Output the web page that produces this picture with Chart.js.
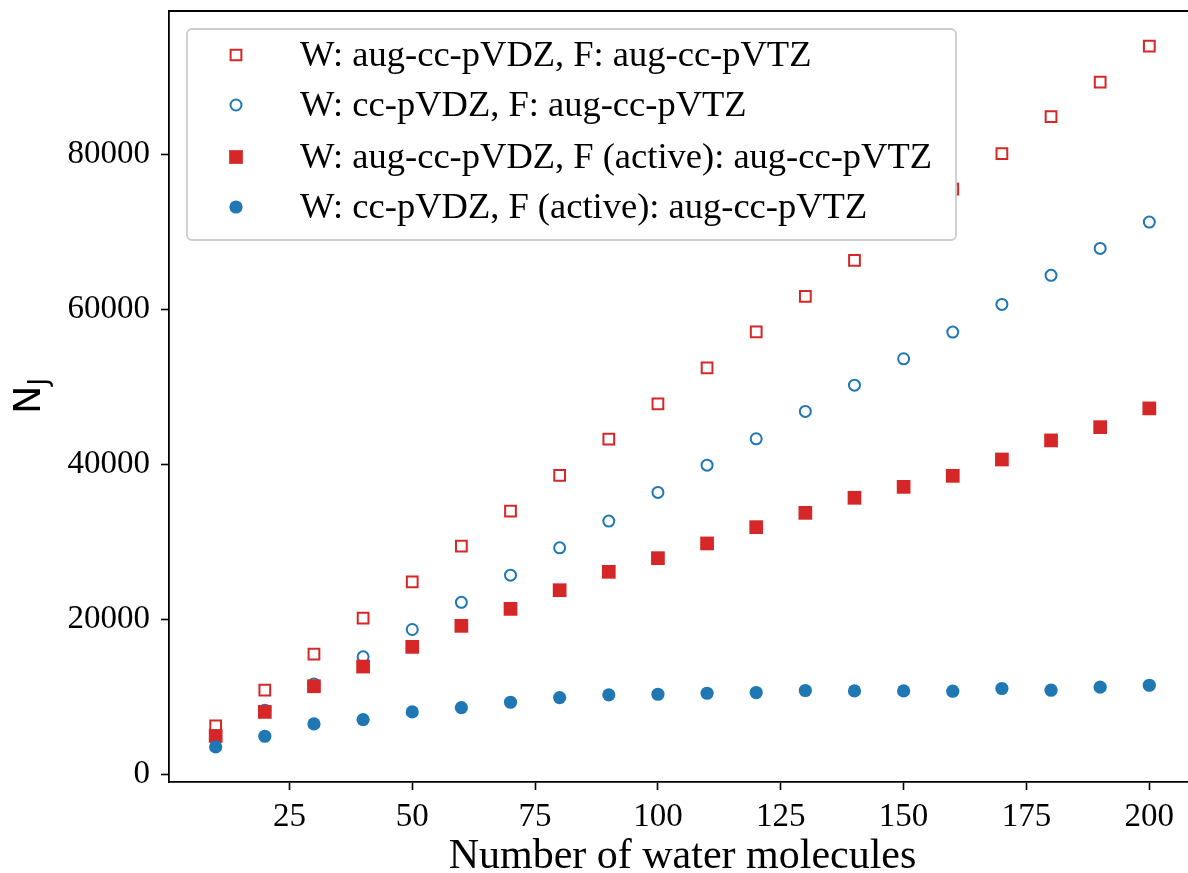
<!DOCTYPE html>
<html>
<head>
<meta charset="utf-8">
<script src="https://cdn.jsdelivr.net/npm/chart.js@4"></script>
<style>
  html, body { margin: 0; padding: 0; background: #fff; overflow: hidden; }
  #wrap { width: 1200px; height: 873px; }
</style>
</head>
<body>
<div id="wrap"><canvas id="njChart" width="1200" height="873"></canvas></div>
<script>
// number of water molecules
const waterCounts = [10, 20, 30, 40, 50, 60, 70, 80, 90, 100, 110, 120, 130, 140, 150, 160, 170, 180, 190, 200];

// W: aug-cc-pVDZ, F: aug-cc-pVTZ
const augFull = [6230, 10840, 15480, 20130, 24810, 29420, 33940, 38540, 43230, 47780,
  52430, 57070, 61640, 66280, 70900, 75480, 80040, 84810, 89290, 93930];
// W: cc-pVDZ, F: aug-cc-pVTZ
const ccFull = [5000, 8260, 11650, 15140, 18670, 22170, 25680, 29200, 32650, 36350,
  39870, 43270, 46800, 50190, 53590, 57030, 60600, 64350, 67830, 71220];
// W: aug-cc-pVDZ, F (active): aug-cc-pVTZ
const augActive = [4940, 8040, 11350, 13890, 16430, 19140, 21330, 23740, 26110, 27870,
  29770, 31870, 33720, 35660, 37070, 38490, 40600, 43060, 44770, 47190];
// W: cc-pVDZ, F (active): aug-cc-pVTZ
const ccActive = [3520, 4900, 6490, 7050, 8040, 8600, 9290, 9890, 10240, 10320,
  10450, 10540, 10800, 10750, 10750, 10710, 11060, 10840, 11230, 11480];

const xTicks = [25, 50, 75, 100, 125, 150, 175, 200];
const yTicks = [0, 20000, 40000, 60000, 80000];

const RED = '#d62728';
const BLUE = '#1f77b4';
const SERIF = '"Liberation Serif", "DejaVu Serif", serif';

const toPoints = (ys) => waterCounts.map((x, i) => ({ x: x, y: ys[i] }));

const series = [
  { label: 'W: aug-cc-pVDZ, F: aug-cc-pVTZ', data: augFull, style: 'rect', color: RED, open: true, r: 7.6, order: 4 },
  { label: 'W: cc-pVDZ, F: aug-cc-pVTZ', data: ccFull, style: 'circle', color: BLUE, open: true, r: 5.5, order: 3 },
  { label: 'W: aug-cc-pVDZ, F (active): aug-cc-pVTZ', data: augActive, style: 'rect', color: RED, open: false, r: 9.7, order: 2 },
  { label: 'W: cc-pVDZ, F (active): aug-cc-pVTZ', data: ccActive, style: 'circle', color: BLUE, open: false, r: 6.6, order: 1 }
];

// no extra room for the edge tick labels
const noPad = (scale) => {
  scale.paddingTop = 0;
  scale.paddingBottom = 0;
  scale.paddingLeft = 0;
  scale.paddingRight = 0;
};

// frame (top / right spines) + legend box inside the plot
const framePlugin = {
  id: 'frame',
  afterDatasetsDraw(chart) {
    const { ctx, chartArea: a } = chart;
    ctx.save();
    ctx.strokeStyle = '#000';
    ctx.lineWidth = 1.8;
    ctx.beginPath();
    ctx.moveTo(a.left, a.top);
    ctx.lineTo(a.right, a.top);
    ctx.lineTo(a.right, a.bottom);
    ctx.stroke();

    // legend
    const bx = 187, by = 29, bw = 769, bh = 211;
    ctx.beginPath();
    ctx.roundRect(bx, by, bw, bh, 5);
    ctx.fillStyle = '#fff';
    ctx.fill();
    ctx.strokeStyle = '#cccccc';
    ctx.lineWidth = 1.8;
    ctx.stroke();

    const rows = [55, 105, 157, 207];
    series.forEach((s, i) => {
      ctx.fillStyle = s.color;
      ctx.strokeStyle = s.color;
      ctx.lineWidth = 2;
      ctx.beginPath();
      if (s.style === 'rect') {
        const h = Math.SQRT1_2 * s.r;
        ctx.rect(236 - h, rows[i] - h, 2 * h, 2 * h);
      } else {
        ctx.arc(236, rows[i], s.r, 0, Math.PI * 2);
      }
      if (s.open) ctx.stroke(); else ctx.fill();

      ctx.fillStyle = '#000';
      ctx.font = '36.5px ' + SERIF;
      ctx.textAlign = 'left';
      ctx.textBaseline = 'alphabetic';
      ctx.fillText(s.label, 300, rows[i] + 11);
    });

    // y title N_J
    ctx.translate(40, 396);
    ctx.rotate(-Math.PI / 2);
    ctx.fillStyle = '#000';
    ctx.font = '38px "DejaVu Sans"';
    const wN = ctx.measureText('N').width;
    ctx.font = '26px "DejaVu Sans"';
    const wJ = ctx.measureText('J').width;
    const start = -(wN + wJ) / 2;
    ctx.font = '38px "DejaVu Sans"';
    ctx.fillText('N', start, 0);
    ctx.font = '26px "DejaVu Sans"';
    ctx.fillText('J', start + wN, 7);
    ctx.restore();
  }
};

new Chart(document.getElementById('njChart'), {
  type: 'scatter',
  data: {
    datasets: series.map(s => ({
      label: s.label,
      data: toPoints(s.data),
      order: s.order,
      pointStyle: s.style,
      pointRadius: s.r,
      pointHoverRadius: s.r,
      pointBorderWidth: s.open ? 2 : 0,
      borderColor: s.color,
      backgroundColor: s.open ? 'rgba(0,0,0,0)' : s.color
    }))
  },
  options: {
    responsive: false,
    animation: false,
    devicePixelRatio: 1,
    layout: { autoPadding: false, padding: { top: 11, right: 4, left: 0, bottom: 0 } },
    plugins: { legend: { display: false }, tooltip: { enabled: false } },
    scales: {
      x: {
        type: 'linear',
        min: 0.5,
        max: 209.5,
        afterFit: (scale) => { scale.height = 91; noPad(scale); },
        afterBuildTicks: (scale) => { scale.ticks = xTicks.map(v => ({ value: v })); },
        grid: { drawOnChartArea: false, drawTicks: true, tickLength: 8, tickWidth: 1.6, tickColor: '#000' },
        border: { display: true, color: '#000', width: 1.8 },
        ticks: { color: '#000', padding: 8, maxRotation: 0, font: { family: SERIF, size: 33 } },
        title: {
          display: true,
          text: 'Number of water molecules',
          color: '#000',
          font: { family: SERIF, size: 42, lineHeight: 1 },
          padding: { top: 0, bottom: -5 }
        }
      },
      y: {
        type: 'linear',
        min: -1000,
        max: 98450,
        afterFit: (scale) => { scale.width = 169; noPad(scale); },
        afterBuildTicks: (scale) => { scale.ticks = yTicks.map(v => ({ value: v })); },
        grid: { drawOnChartArea: false, drawTicks: true, tickLength: 8, tickWidth: 1.6, tickColor: '#000' },
        border: { display: true, color: '#000', width: 1.8 },
        ticks: { color: '#000', padding: 11, font: { family: SERIF, size: 33 }, callback: (v) => String(v) }
      }
    }
  },
  plugins: [framePlugin]
});
</script>
</body>
</html>
